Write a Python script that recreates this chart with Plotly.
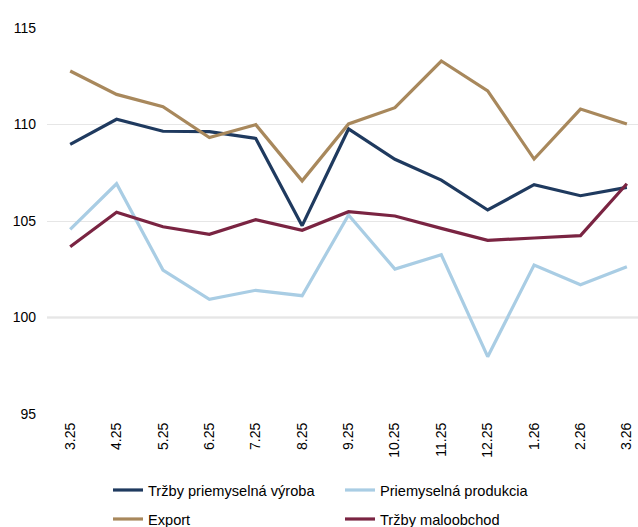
import plotly.graph_objects as go

categories = ["3.25", "4.25", "5.25", "6.25", "7.25", "8.25", "9.25",
              "10.25", "11.25", "12.25", "1.26", "2.26", "3.26"]

trzby_vyroba = [108.97, 110.27, 109.65, 109.63, 109.28, 104.76, 109.77,
                108.2, 107.12, 105.57, 106.88, 106.31, 106.74]
priem_produkcia = [104.57, 106.93, 102.46, 100.94, 101.41, 101.13, 105.31,
                   102.51, 103.25, 97.97, 102.72, 101.70, 102.63]
export = [112.77, 111.56, 110.92, 109.32, 109.99, 107.08, 110.03,
          110.87, 113.29, 111.74, 108.21, 110.8, 110.03]
trzby_maloobchod = [103.67, 105.45, 104.7, 104.31, 105.07, 104.52, 105.48,
                    105.26, 104.62, 104.0, 104.12, 104.24, 106.93]

y_ticks = [95, 100, 105, 110, 115]

series = [
    ("Tržby priemyselná výroba", trzby_vyroba, "#1F3A5F", "legend"),
    ("Priemyselná produkcia", priem_produkcia, "#A9CDE4", "legend"),
    ("Export", export, "#A8885C", "legend2"),
    ("Tržby maloobchod", trzby_maloobchod, "#7A2442", "legend2"),
]

fig = go.Figure()
for name, vals, color, lg in series:
    fig.add_trace(go.Scatter(
        x=list(range(len(categories))), y=vals, name=name, mode="lines",
        line=dict(color=color, width=3.2), legend=lg,
    ))

fig.add_shape(type="line", xref="paper", yref="y", x0=0, x1=1, y0=100, y1=100,
              line=dict(color="#BDBDBD", width=1.5), layer="below")

font = "Liberation Sans, Arial, sans-serif"
legend_common = dict(
    orientation="h", xref="container", yref="container",
    x=108 / 638, xanchor="left", yanchor="middle",
    entrywidth=187, entrywidthmode="pixels",
    font=dict(family=font, size=14.6, color="#000000"),
    itemwidth=30, bgcolor="rgba(0,0,0,0)",
)
fig.update_layout(
    width=638, height=527,
    margin=dict(l=47, r=0, t=28, b=113),
    paper_bgcolor="white", plot_bgcolor="white",
    font=dict(family=font, size=14, color="#000000"),
    showlegend=True,
    legend=dict(legend_common, y=1 - 490 / 527),
    legend2=dict(legend_common, y=1 - 519 / 527),
    xaxis=dict(
        tickmode="array", tickvals=list(range(len(categories))), ticktext=categories,
        range=[-0.5, 12.24], tickangle=-90, showgrid=False, zeroline=False,
        showline=False, ticks="", tickfont=dict(size=14), automargin=False,
        ticklabelstandoff=5,
    ),
    yaxis=dict(
        range=[95, 115], tickvals=y_ticks, showgrid=True, gridcolor="#E6E6E6",
        gridwidth=1, zeroline=False, showline=False, ticks="",
        ticklabelstandoff=10, tickfont=dict(size=14), automargin=False,
    ),
)

fig.write_html("out.html", config={"displayModeBar": False},
               post_script="document.body.style.margin='0';document.body.style.padding='0';")
